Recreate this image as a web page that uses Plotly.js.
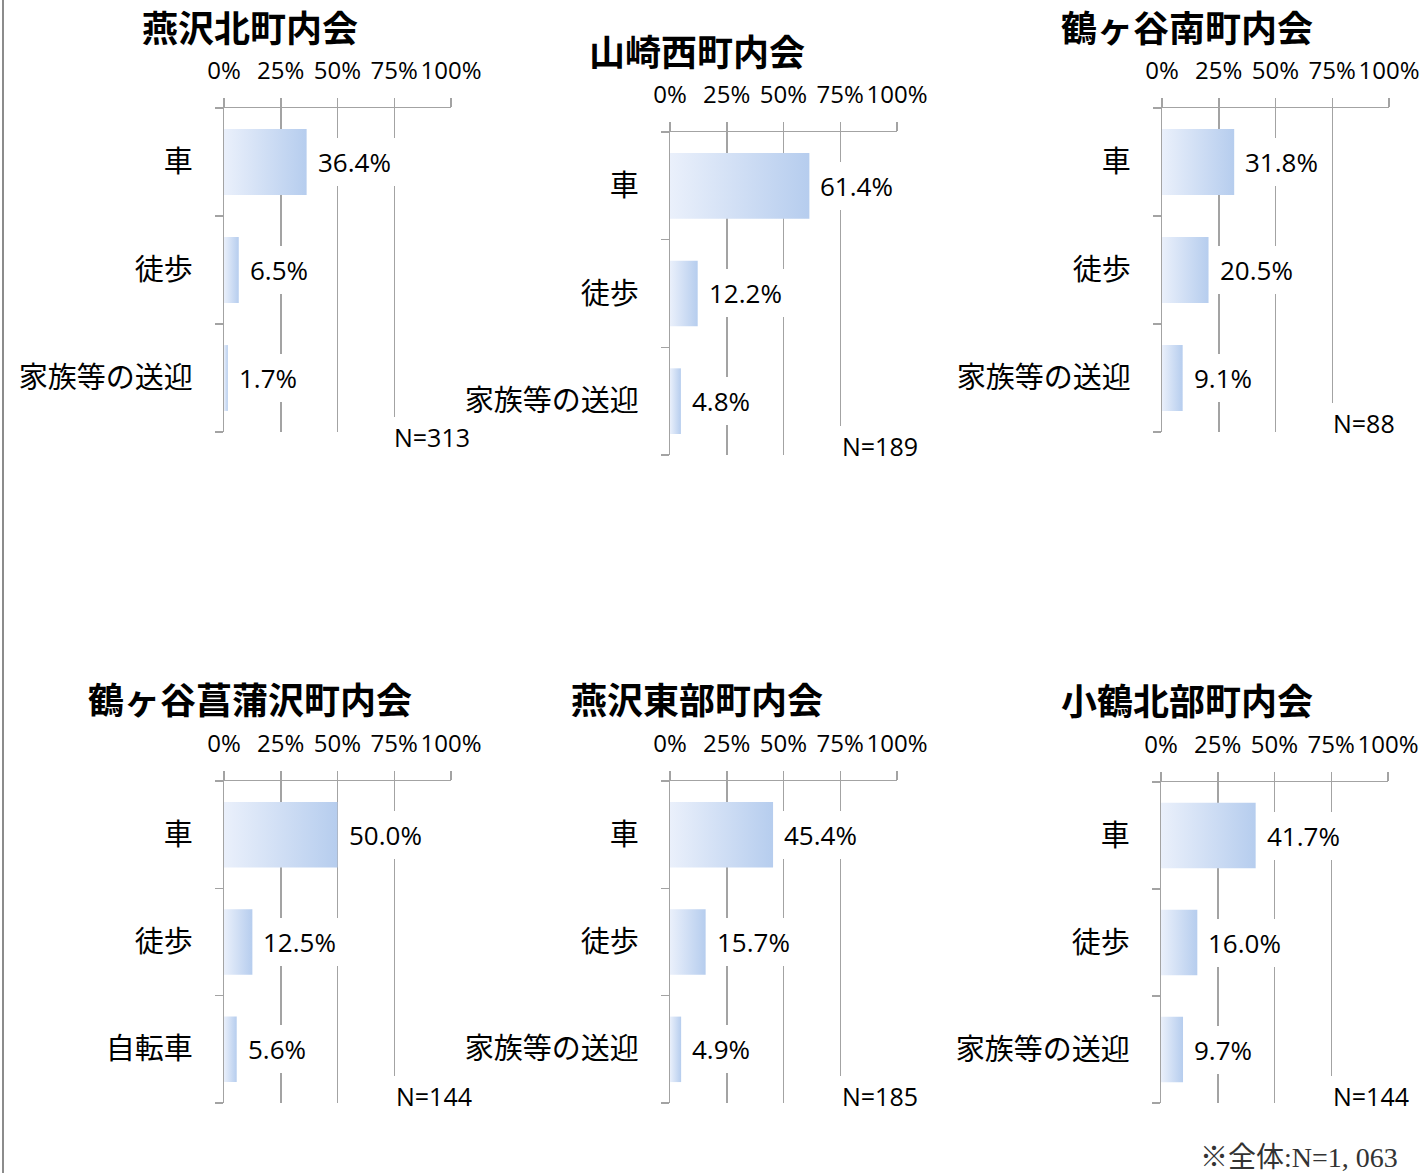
<!DOCTYPE html>
<html>
<head>
<meta charset="utf-8">
<script src="https://cdn.plot.ly/plotly-3.0.1.min.js"></script>
<style>html,body{margin:0;padding:0;background:#fff;}#chart{width:1424px;height:1173px;}</style>
</head>
<body>
<div id="chart"></div>
<script>
// ---- data ----
const titles = ['燕沢北町内会', '山崎西町内会', '鶴ヶ谷南町内会', '鶴ヶ谷菖蒲沢町内会', '燕沢東部町内会', '小鶴北部町内会'];
const catsSogei = ['車', '徒歩', '家族等の送迎'];
const catsJitensha = ['車', '徒歩', '自転車'];
const valsTsubamesawaKita = [36.4, 6.5, 1.7];
const valsYamazakiNishi = [61.4, 12.2, 4.8];
const valsTsurugayaMinami = [31.8, 20.5, 9.1];
const valsShobuzawa = [50.0, 12.5, 5.6];
const valsTsubamesawaTobu = [45.4, 15.7, 4.9];
const valsKotsuruHokubu = [41.7, 16.0, 9.7];
const nCounts = [313, 189, 88, 144, 185, 144];
const xTickVals = [0, 25, 50, 75, 100];
const xTickText = ['0%', '25%', '50%', '75%', '100%'];
const footnote = '※全体:N=1, 063';

const panelCats = [catsSogei, catsSogei, catsSogei, catsJitensha, catsSogei, catsSogei];
const panelVals = [valsTsubamesawaKita, valsYamazakiNishi, valsTsurugayaMinami, valsShobuzawa, valsTsubamesawaTobu, valsKotsuruHokubu];

// ---- layout geometry (pixels) ----
const W = 1424, H = 1173;
const boxes = [
  {x0:224, x1:451, y0:108, y1:432, tx:250, ty:26, nx:470, ny:437},
  {x0:670, x1:897, y0:132, y1:455, tx:697, ty:50, nx:918, ny:446},
  {x0:1162, x1:1389, y0:108, y1:432, tx:1187, ty:26, nx:1395, ny:423},
  {x0:224, x1:451, y0:781, y1:1103, tx:250, ty:698, nx:472, ny:1096},
  {x0:670, x1:897, y0:781, y1:1103, tx:697, ty:698, nx:918, ny:1096},
  {x0:1161, x1:1388, y0:782, y1:1103, tx:1187, ty:699, nx:1409, ny:1096}
];
const GRID = '#a3a3a3';
const LATIN = '"Open Sans", "Noto Sans CJK JP", sans-serif';
const CJK = '"Noto Sans CJK JP", sans-serif';
const HALF = 0.305;

const traces = [];
const annotations = [];
const layout = {
  width: W, height: H,
  margin: {l:0, r:0, t:0, b:0},
  paper_bgcolor: '#fff', plot_bgcolor: '#fff',
  showlegend: false,
  font: {family: LATIN, color: '#000'},
  shapes: [{type:'line', xref:'paper', yref:'paper', x0:3/W, x1:3/W, y0:0, y1:1,
            line:{color:'#8c8c8c', width:2}}],
  annotations: annotations
};

boxes.forEach((b, p) => {
  const k = p === 0 ? '' : String(p + 1);
  const xa = 'x' + k, ya = 'y' + k;
  const cats = panelCats[p], vals = panelVals[p];

  layout['xaxis' + k] = {
    domain: [b.x0 / W, b.x1 / W], anchor: ya, side: 'top',
    range: [0, 100], fixedrange: true,
    tickmode: 'array', tickvals: xTickVals, ticktext: xTickText, tickangle: 0,
    ticks: 'outside', ticklen: 9, tickcolor: GRID, tickwidth: 1.5,
    showgrid: true, gridcolor: GRID, gridwidth: 1.5,
    showline: true, linecolor: GRID, linewidth: 1.5,
    zeroline: false, ticklabelstandoff: 9,
    tickfont: {family: LATIN, size: 24, color: '#000'}
  };
  layout['yaxis' + k] = {
    domain: [1 - b.y1 / H, 1 - b.y0 / H], anchor: xa,
    range: [cats.length - 0.5, -0.5], fixedrange: true,
    tickmode: 'array', tickvals: cats.map((c, i) => i), ticktext: cats,
    ticks: 'outside', ticklen: 24, tickcolor: 'rgba(0,0,0,0)',
    minor: {tickmode: 'array', tickvals: [-0.5, 0.5, 1.5, 2.5], ticks: 'outside',
            ticklen: 8, tickcolor: GRID, tickwidth: 1.5, showgrid: false},
    showgrid: false, zeroline: false,
    showline: true, linecolor: GRID, linewidth: 1.5,
    tickfont: {family: CJK, size: 29, color: '#000'}
  };

  vals.forEach((v, i) => {
    traces.push({
      type: 'scatter', mode: 'lines', xaxis: xa, yaxis: ya,
      x: [0, v, v, 0, 0],
      y: [i - HALF, i - HALF, i + HALF, i + HALF, i - HALF],
      fill: 'toself', line: {width: 0, color: 'rgba(0,0,0,0)'},
      fillcolor: '#cfdcf3',
      fillgradient: {type: 'horizontal', colorscale: [[0, '#eaf0fb'], [1, '#b6cdee']]},
      hoverinfo: 'skip'
    });
    annotations.push({
      xref: xa, yref: ya, x: v, y: i, xanchor: 'left', yanchor: 'middle',
      xshift: 5, text: v.toFixed(1) + '%', showarrow: false,
      bgcolor: '#fff', borderpad: 6, borderwidth: 0,
      font: {family: LATIN, size: 26, color: '#000'}
    });
  });

  annotations.push({
    xref: 'paper', yref: 'paper', x: (b.nx + 3) / W, y: 1 - b.ny / H,
    xanchor: 'right', yanchor: 'middle', text: 'N=' + nCounts[p], showarrow: false,
    bgcolor: '#fff', borderpad: 3, borderwidth: 0,
    font: {family: LATIN, size: 25, color: '#000'}
  });
  annotations.push({
    xref: 'paper', yref: 'paper', x: b.tx / W, y: 1 - b.ty / H,
    xanchor: 'center', yanchor: 'middle', text: '<b>' + titles[p] + '</b>', showarrow: false,
    font: {family: CJK, size: 36, color: '#000'}
  });
});

annotations.push({
  xref: 'paper', yref: 'paper', x: 1400 / W, y: 1 - 1157 / H,
  xanchor: 'right', yanchor: 'middle', text: footnote, showarrow: false,
  font: {family: '"Liberation Serif", "Noto Sans CJK JP", serif', size: 28, color: '#333'}
});

Plotly.newPlot('chart', traces, layout, {staticPlot: true, displayModeBar: false});
</script>
</body>
</html>
